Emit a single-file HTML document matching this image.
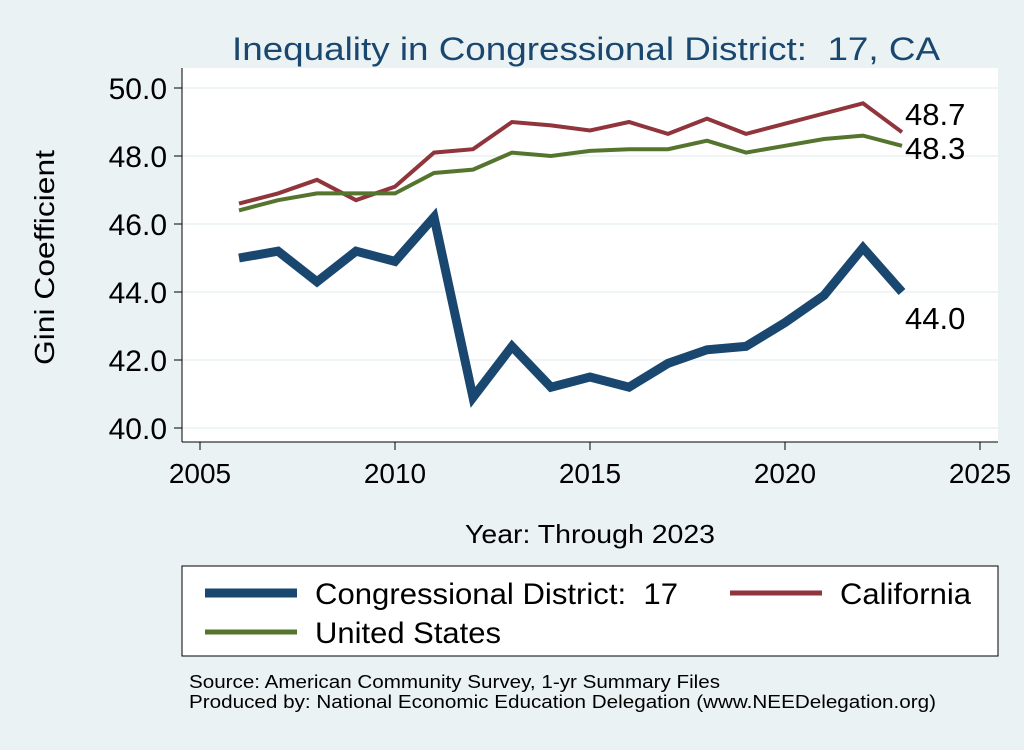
<!DOCTYPE html>
<html><head><meta charset="utf-8"><style>
body{margin:0;background:#eaf2f3;font-family:"Liberation Sans",sans-serif;}
text{white-space:pre;}
</style></head><body>
<svg width="1024" height="745" xmlns="http://www.w3.org/2000/svg" font-family="Liberation Sans, sans-serif">
<rect x="0" y="0" width="1024" height="745" fill="#eaf2f3"/>
<text x="232" y="60" font-size="32" fill="#1a476f" textLength="708" lengthAdjust="spacingAndGlyphs">Inequality in Congressional District:  17, CA</text>
<rect x="182" y="68" width="816" height="374" fill="#fff"/>
<g id="grid"></g><g id="axes"></g><g id="series"></g>
<text x="0" y="0" font-size="28" fill="#000" textLength="215" lengthAdjust="spacingAndGlyphs" transform="translate(54 365) rotate(-90)">Gini Coefficient</text>
<text x="465" y="543" font-size="26" fill="#000" textLength="250" lengthAdjust="spacingAndGlyphs">Year: Through 2023</text>
<g>
<rect x="182" y="566" width="816" height="90" fill="#fff" stroke="#000" stroke-width="1"/>
<line x1="205" y1="593" x2="297" y2="593" stroke="#1a476f" stroke-width="9"/>
<text x="315" y="604" font-size="30" textLength="363" lengthAdjust="spacingAndGlyphs">Congressional District:  17</text>
<line x1="730" y1="593" x2="822" y2="593" stroke="#90353b" stroke-width="5"/>
<text x="840" y="604" font-size="30" textLength="131" lengthAdjust="spacingAndGlyphs">California</text>
<line x1="205" y1="632" x2="297" y2="632" stroke="#55752f" stroke-width="5"/>
<text x="315" y="643" font-size="30" textLength="186" lengthAdjust="spacingAndGlyphs">United States</text>
</g>
<text x="189" y="688" font-size="18" textLength="531" lengthAdjust="spacingAndGlyphs">Source: American Community Survey, 1-yr Summary Files</text>
<text x="189" y="708" font-size="18" textLength="747" lengthAdjust="spacingAndGlyphs">Produced by: National Economic Education Delegation (www.NEEDelegation.org)</text>
</svg>
<script>
const years=[2006,2007,2008,2009,2010,2011,2012,2013,2014,2015,2016,2017,2018,2019,2020,2021,2022,2023];
const district=[45.0,45.2,44.3,45.2,44.9,46.2,40.9,42.4,41.2,41.5,41.2,41.9,42.3,42.4,43.1,43.9,45.3,44.0];
const california=[46.6,46.9,47.3,46.7,47.1,48.1,48.2,49.0,48.9,48.75,49.0,48.65,49.1,48.65,48.95,49.25,49.55,48.7];
const unitedStates=[46.4,46.7,46.9,46.9,46.9,47.5,47.6,48.1,48.0,48.15,48.2,48.2,48.45,48.1,48.3,48.5,48.6,48.3];
const yTicks=[40,42,44,46,48,50];
const xTicks=[2005,2010,2015,2020,2025];
const NS="http://www.w3.org/2000/svg";
const xs=v=>200+(v-2005)*39;
const ys=v=>428-(v-40)*34;
function mk(t,a,p){const e=document.createElementNS(NS,t);for(const k in a)e.setAttribute(k,a[k]);p.appendChild(e);return e;}
const grid=document.getElementById('grid'),axes=document.getElementById('axes'),ser=document.getElementById('series');
mk('line',{x1:182,y1:68,x2:182,y2:442,stroke:'#000','stroke-width':1},axes);
mk('line',{x1:182,y1:442,x2:998,y2:442,stroke:'#000','stroke-width':1},axes);
yTicks.forEach(v=>{
 const g=mk('line',{x1:182,x2:998,y1:ys(v),y2:ys(v),stroke:'#eaf2f3','stroke-width':1.5},grid);
 
 
 mk('line',{x1:174,x2:182,y1:ys(v),y2:ys(v),stroke:'#000'},axes);
 const t=mk('text',{x:167,y:ys(v)+11,'font-size':30,'text-anchor':'end'},axes);
 t.textContent=v.toFixed(1);
 
 
});
xTicks.forEach(v=>{
 mk('line',{x1:xs(v),x2:xs(v),y1:442,y2:450,stroke:'#000'},axes);
 const t=mk('text',{x:xs(v),y:483,'font-size':28,'text-anchor':'middle'},axes);
 t.textContent=v;
 
 
});
function line(data,color,w,name){
 const p=mk('polyline',{points:data.map((v,i)=>xs(years[i])+','+ys(v)).join(' '),fill:'none',stroke:color,'stroke-width':w,'stroke-linejoin':'miter'},ser);
 
 
}
line(california,'#90353b',4,'line-california');
line(unitedStates,'#55752f',4,'line-united-states');
line(district,'#1a476f',9,'line-district');
function lab(data,dy,name){
 const v=data[data.length-1];
 const t=mk('text',{x:xs(years[years.length-1])+3,y:ys(v)+dy,'font-size':31},ser);
 t.textContent=v.toFixed(1);
 
 
}
lab(california,-7,'end-label-california');
lab(unitedStates,13,'end-label-us');
lab(district,37,'end-label-district');
</script>
</body></html>
